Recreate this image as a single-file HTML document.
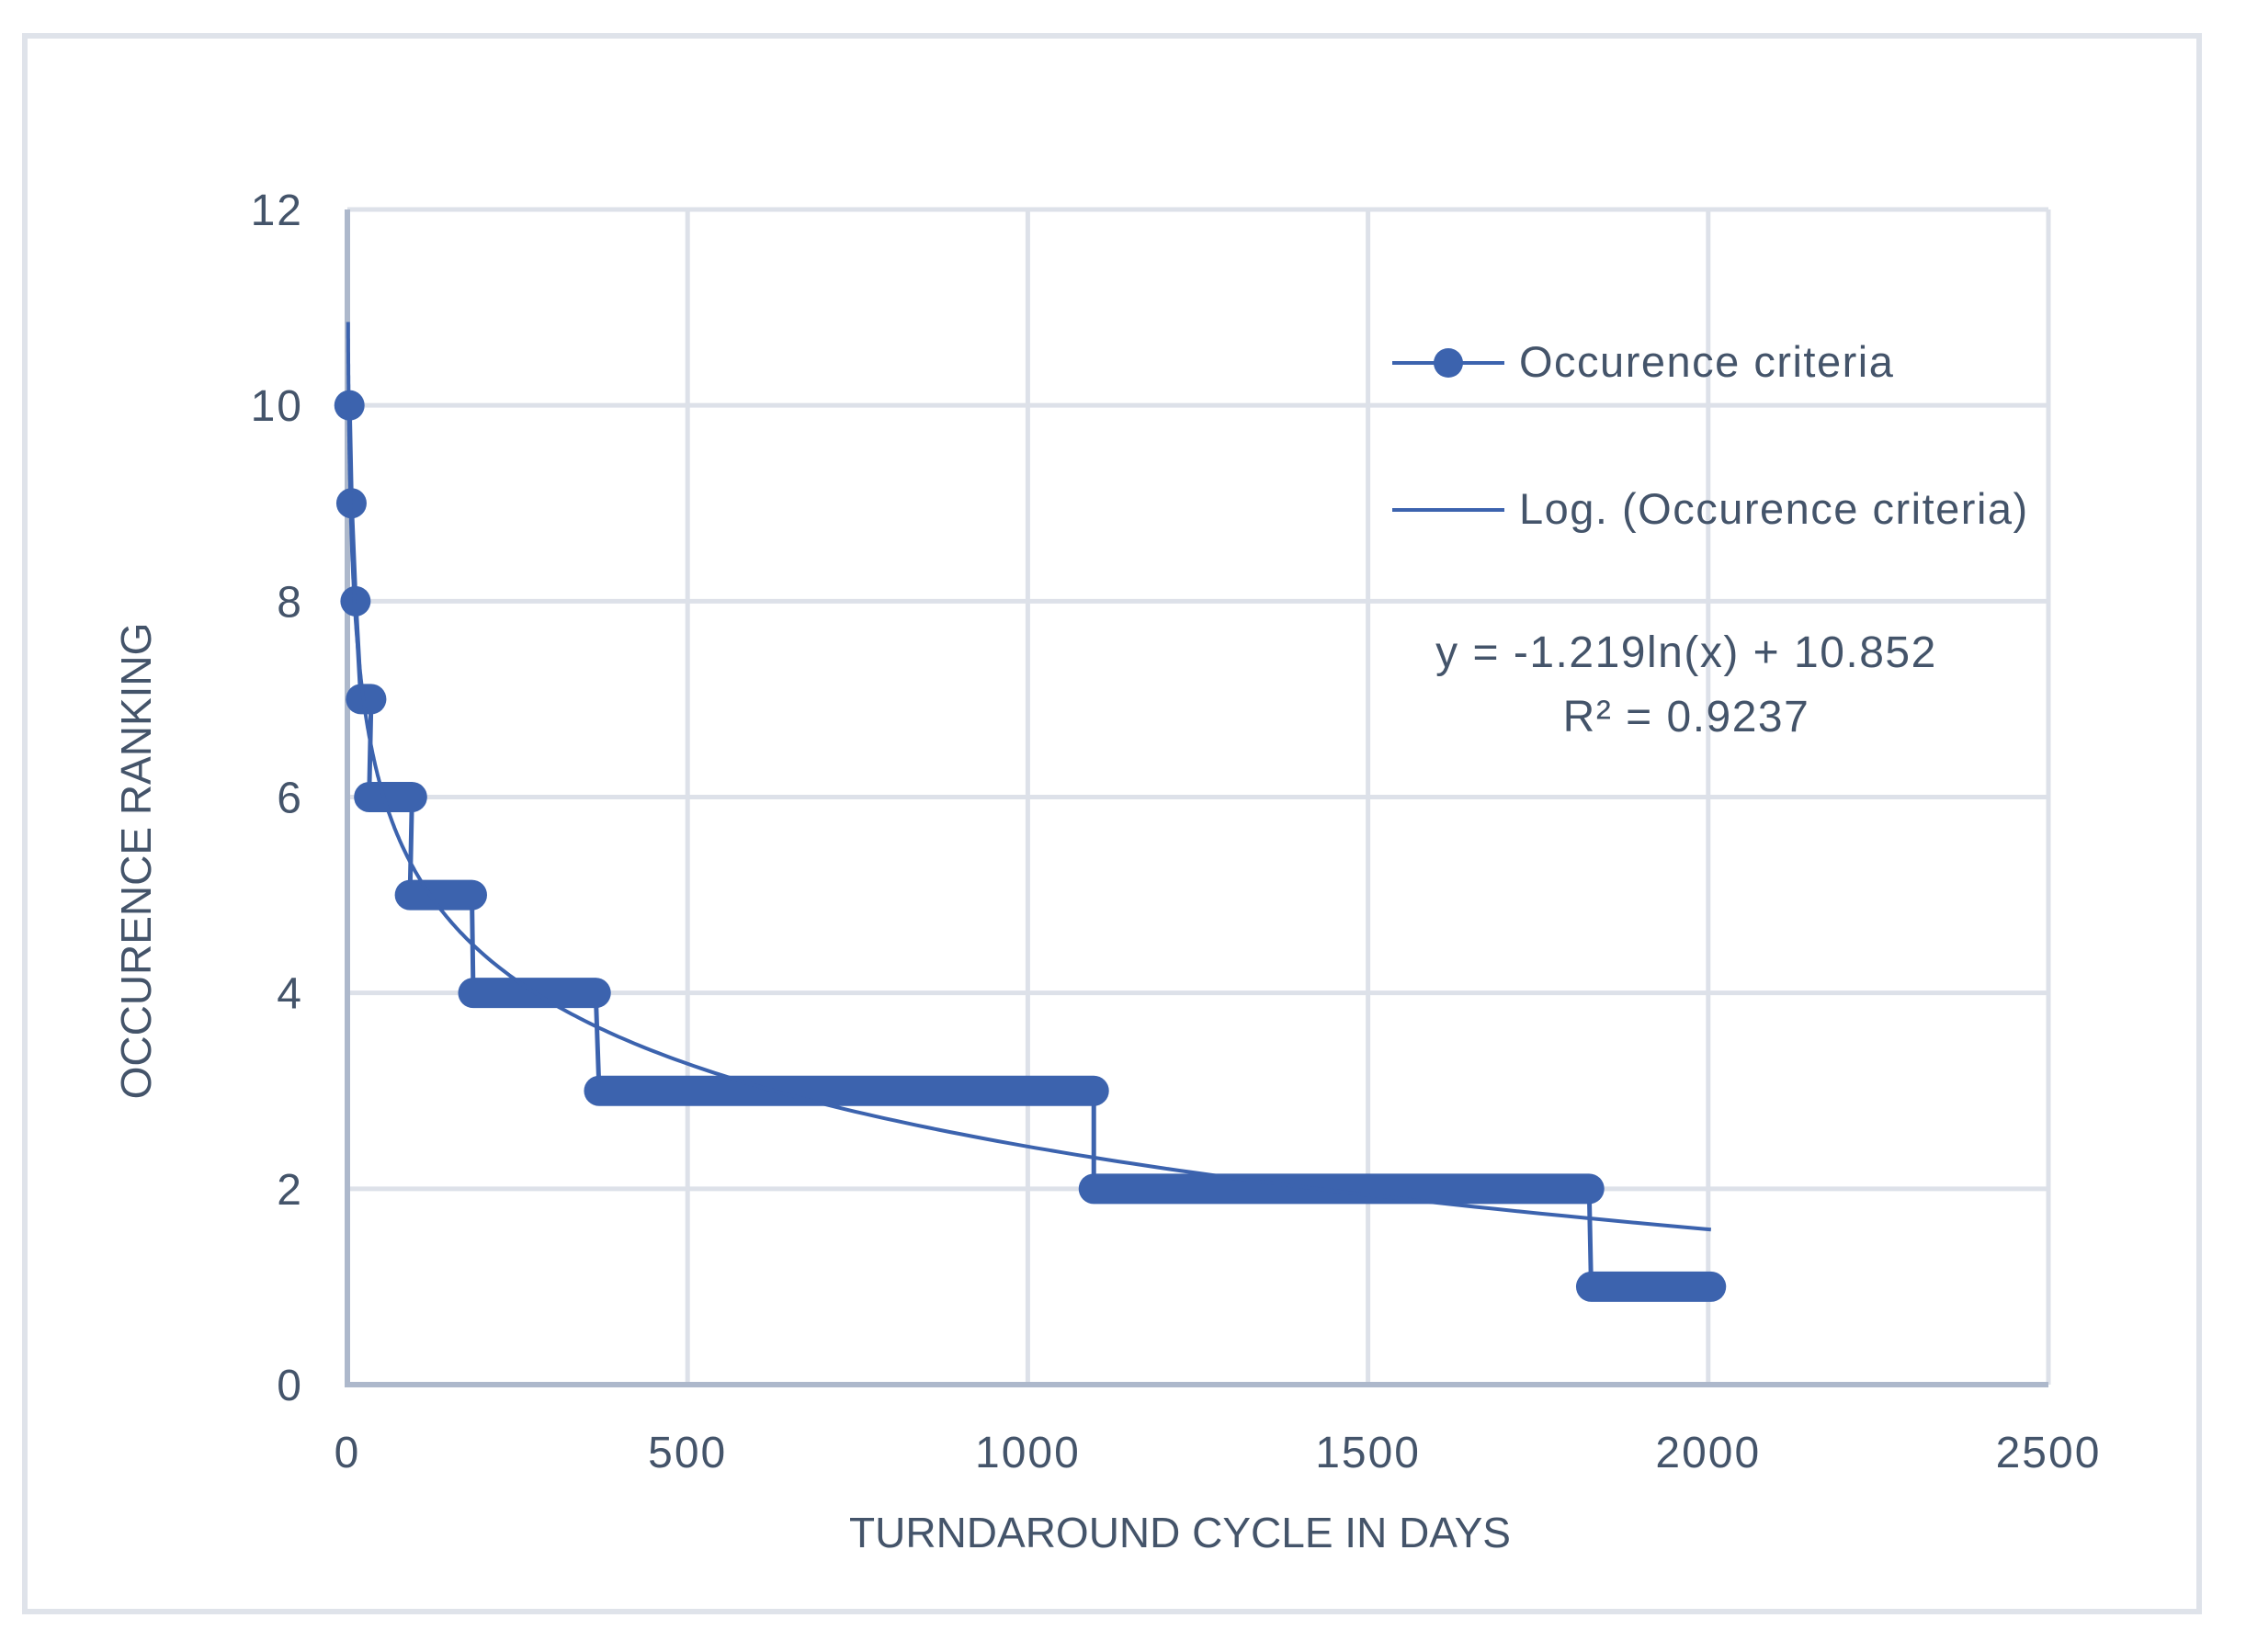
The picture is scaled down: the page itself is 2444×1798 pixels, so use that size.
<!DOCTYPE html>
<html><head><meta charset="utf-8"><style>
html,body{margin:0;padding:0;background:#fff;}
svg{display:block;font-family:"Liberation Sans",sans-serif;}
</style></head><body>
<svg id="chart" width="2444" height="1798" viewBox="0 0 2444 1798">
<rect x="27" y="39" width="2366" height="1715" fill="#fff" stroke="#dfe3ea" stroke-width="6"/>
<g id="grid"></g>
<g id="axes"></g>
<g id="series"></g>
<g id="trend"></g>
<g>
 <line x1="1515" y1="395" x2="1637" y2="395" stroke="#3c63ae" stroke-width="4"/>
 <circle cx="1576" cy="395" r="16" fill="#3c63ae"/>
 <text x="1653" y="410" font-size="47" letter-spacing="1.5" fill="#44546a">Occurence criteria</text>
 <line x1="1515" y1="555" x2="1637" y2="555" stroke="#3c63ae" stroke-width="4"/>
 <text x="1653" y="570" font-size="47" letter-spacing="1.5" fill="#44546a">Log. (Occurence criteria)</text>
</g>
<text x="1835" y="726" font-size="48" letter-spacing="1.5" fill="#44546a" text-anchor="middle">y = -1.219ln(x) + 10.852</text>
<text x="1835" y="796" font-size="48" letter-spacing="1.5" fill="#44546a" text-anchor="middle">R² = 0.9237</text>
<text x="0" y="0" font-size="46" fill="#44546a" text-anchor="middle" transform="translate(164,937) rotate(-90)">OCCURENCE  RANKING</text>
<text x="1284" y="1684" font-size="46" fill="#44546a" text-anchor="middle">TURNDAROUND CYCLE  IN DAYS</text>
</svg>
<script>
const xTicks=[0,500,1000,1500,2000,2500];
const yTicks=[0,2,4,6,8,10,12];
const ranks=[10,9,8,7,6,5,4,3,2,1];
const stepStart=[3,6,12,20,32,92,185,370,1097,1828];
const stepEnd=[3,6,12,35,95,183,365,1097,1825,2004];
const trendA=-1.219, trendB=10.852;
const trendRange=[1,2004];

const NS="http://www.w3.org/2000/svg";
const X0=378,X1=2229,Y0=1507,Y1=228;
const sx=v=>X0+(v-0)/(2500)*(X1-X0);
const sy=v=>Y0-(v/12)*(Y0-Y1);
function mk(tag,attrs,parent){const e=document.createElementNS(NS,tag);for(const k in attrs)e.setAttribute(k,attrs[k]);parent.appendChild(e);return e;}
const grid=document.getElementById('grid'),axes=document.getElementById('axes');
yTicks.forEach(t=>{
 if(t>0){const l=mk('line',{x1:X0,x2:X1,y1:sy(t),y2:sy(t),stroke:'#dde1e9','stroke-width':5},grid);
 
 }
 const tx=mk('text',{x:330,y:sy(t)+17,'font-size':48,'letter-spacing':2,fill:'#44546a','text-anchor':'end'},axes);
 tx.textContent=t;
 
 
});
xTicks.forEach(t=>{
 if(t>0){const l=mk('line',{x1:sx(t),x2:sx(t),y1:Y1,y2:Y0,stroke:'#dde1e9','stroke-width':5},grid);
 
 }
 const tx=mk('text',{x:sx(t),y:1597,'font-size':48,'letter-spacing':2,fill:'#44546a','text-anchor':'middle'},axes);
 tx.textContent=t;
 
 
});
let a=mk('line',{x1:X0,x2:X0,y1:Y1,y2:Y0+3,stroke:'#adb8cb','stroke-width':6},axes);


a=mk('line',{x1:X0-3,x2:X1,y1:Y0,y2:Y0,stroke:'#adb8cb','stroke-width':6},axes);



const ser=document.getElementById('series');
let pts=[];
ranks.forEach((r,i)=>{pts.push([stepStart[i],r]);pts.push([stepEnd[i],r]);});
const conn=mk('polyline',{points:pts.map(p=>sx(p[0])+','+sy(p[1])).join(' '),fill:'none',stroke:'#3c63ae','stroke-width':5},ser);


ranks.forEach((r,i)=>{
 const b=mk('line',{x1:sx(stepStart[i]),x2:sx(stepEnd[i]),y1:sy(r),y2:sy(r),stroke:'#3c63ae','stroke-width':33,'stroke-linecap':'round'},ser);
 
 
});
const tr=document.getElementById('trend');
let d='';
for(let k=0;k<=400;k++){
 const x=trendRange[0]*Math.pow(trendRange[1]/trendRange[0],k/400);
 const y=trendA*Math.log(x)+trendB;
 d+=(k?'L':'M')+sx(x).toFixed(1)+','+sy(y).toFixed(1);
}
const tp=mk('path',{d:d,fill:'none',stroke:'#3c63ae','stroke-width':4},tr);


</script>
</body></html>
